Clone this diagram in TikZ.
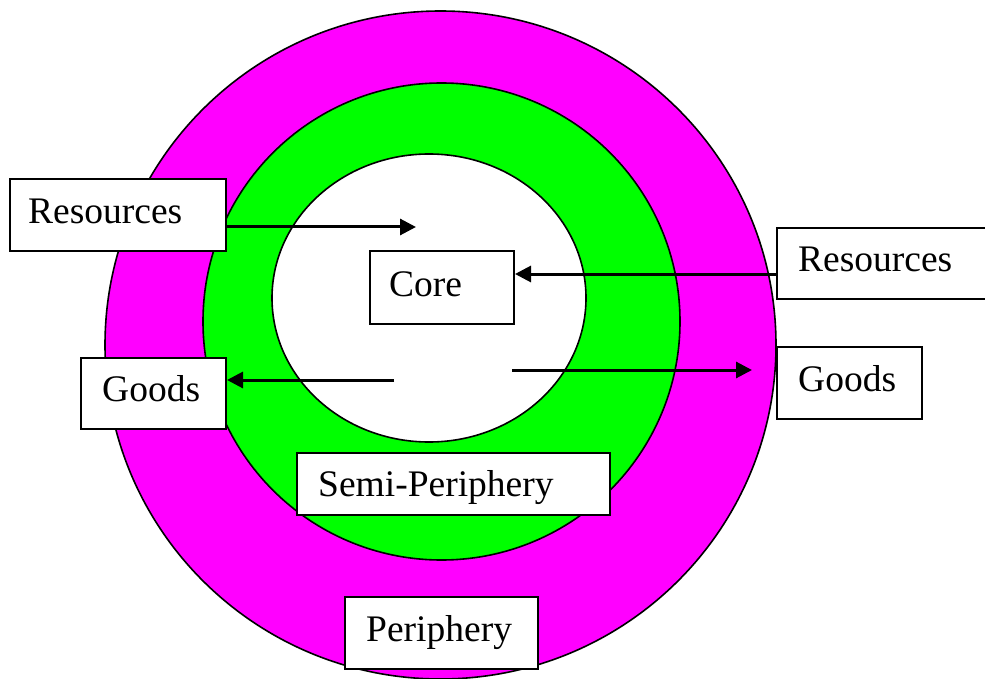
\documentclass[tikz,border=0pt]{standalone}
\usepackage{fontspec}
\setmainfont{Liberation Serif}
\usetikzlibrary{arrows.meta,calc}
\definecolor{mag}{RGB}{255,0,255}
\definecolor{grn}{RGB}{0,255,0}
\begin{document}
\begin{tikzpicture}[x=1pt,y=-1pt,
  ring/.style={draw=black,line width=1.6pt},
  box/.style={draw=black,fill=white,line width=2pt,anchor=north west,inner sep=0pt},
  lbl/.style={anchor=base west,inner sep=0pt,font=\fontsize{37.5}{41}\selectfont},
  arr/.style={line width=3pt,-{Triangle[length=16pt,width=16pt]}}]
\useasboundingbox (0,0) rectangle (985,679);
% rings
\draw[ring,fill=mag] (440.5,345) ellipse [x radius=335.5pt,y radius=334pt];
\draw[ring,fill=grn] (441.5,321.5) ellipse [x radius=238.5pt,y radius=238.5pt];
\draw[ring,fill=white] (429,298) ellipse [x radius=157pt,y radius=144pt];
% boxes
\node[box,minimum width=216pt,minimum height=72pt] (resL) at (9,178) {};
\node[box,minimum width=144pt,minimum height=73pt] (core) at (369,250) {};
\node[box,minimum width=215pt,minimum height=71pt] (resR) at (776,227) {};
\node[box,minimum width=145pt,minimum height=71pt] (goodsL) at (80,357) {};
\node[box,minimum width=145pt,minimum height=72pt] (goodsR) at (776,346) {};
\node[box,minimum width=313pt,minimum height=62pt] (semi) at (296,452) {};
\node[box,minimum width=193pt,minimum height=72pt] (peri) at (344,596) {};
% labels
\node[lbl] (resLt) at ($(resL.north west)+(19,45)$) {Resources};
\node[lbl] (coret) at ($(core.north west)+(20,46)$) {Core};
\node[lbl] (resRt) at ($(resR.north west)+(22,44)$) {Resources};
\node[lbl] (goodsLt) at ($(goodsL.north west)+(22,44)$) {Goods};
\node[lbl] (goodsRt) at ($(goodsR.north west)+(22,45)$) {Goods};
\node[lbl] (semit) at ($(semi.north west)+(22,44)$) {Semi-Periphery};
\node[lbl] (perit) at ($(peri.north west)+(22,45)$) {Periphery};
% arrows
\coordinate (a1) at (416,227);
\coordinate (a2) at (0,274);
\coordinate (a3) at (394,380);
\coordinate (a4s) at (512,370);
\coordinate (a4e) at (752,370);
\draw[arr] (resL.east |- a1) -- (a1);
\draw[arr] (resR.west |- a2) -- (core.east |- a2);
\draw[arr] (a3) -- (goodsL.east |- a3);
\draw[arr] (a4s) -- (a4e);
\end{tikzpicture}
\end{document}
